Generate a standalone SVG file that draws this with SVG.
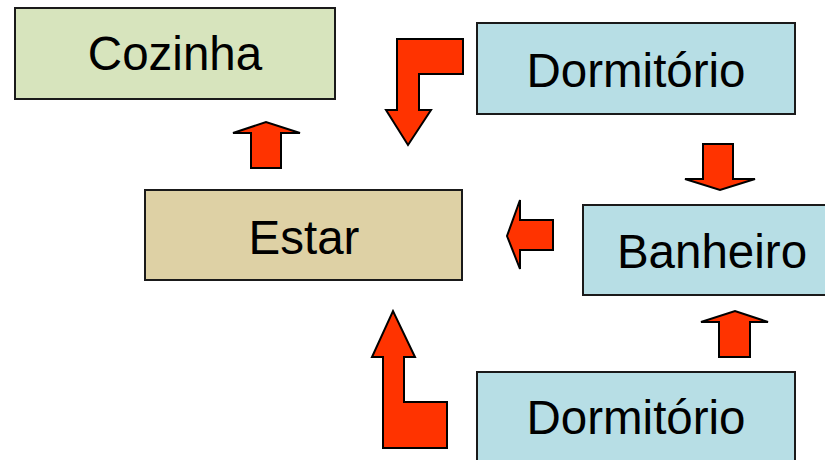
<svg xmlns="http://www.w3.org/2000/svg" width="825" height="460" viewBox="0 0 825 460">
<style>
.box{stroke:#1a1a1a;stroke-width:2}
.lbl{font-family:"Liberation Sans",Arial,sans-serif;font-size:47.5px;fill:#000;text-anchor:middle}
.arr{fill:#ff3300;stroke:#000;stroke-width:2;stroke-linejoin:miter}
</style>
<rect width="825" height="460" fill="#fff"/>
<g id="cozinha"><rect class="box" x="15" y="8" width="320" height="91" fill="#d7e4bd"/><text class="lbl" x="175" y="70">Cozinha</text></g>
<g id="dormitorio1"><rect class="box" x="477" y="23" width="318" height="91" fill="#b7dee5"/><text class="lbl" x="636" y="87">Dormitório</text></g>
<g id="estar"><rect class="box" x="145" y="190" width="317" height="90" fill="#ded1a5"/><text class="lbl" x="304" y="254">Estar</text></g>
<g id="banheiro"><rect class="box" x="583" y="205" width="250" height="90" fill="#b7dee5"/><text class="lbl" x="712" y="268">Banheiro</text></g>
<g id="dormitorio2"><rect class="box" x="477" y="372" width="318" height="100" fill="#b7dee5"/><text class="lbl" x="636" y="434">Dormitório</text></g>
<g id="connectors">
<polygon class="arr" points="463,39 463,74 419,74 419,110 431,110 408,145 386,110 397,110 397,39"/>
<polygon class="arr" points="251,168 251,133 233,133 266,122 300,133 281,133 281,168"/>
<polygon class="arr" points="553,220 553,250 520,250 520,269 507,236 520,200 520,220"/>
<polygon class="arr" points="703,144 733,144 733,179 755,179 720,190 685,179 703,179"/>
<polygon class="arr" points="719,357 719,322 701,322 735,311 768,322 750,322 750,357"/>
<polygon class="arr" points="383,448 383,357 372,357 393,311 415,357 404,357 404,402 447,402 447,448"/>
</g>
</svg>
